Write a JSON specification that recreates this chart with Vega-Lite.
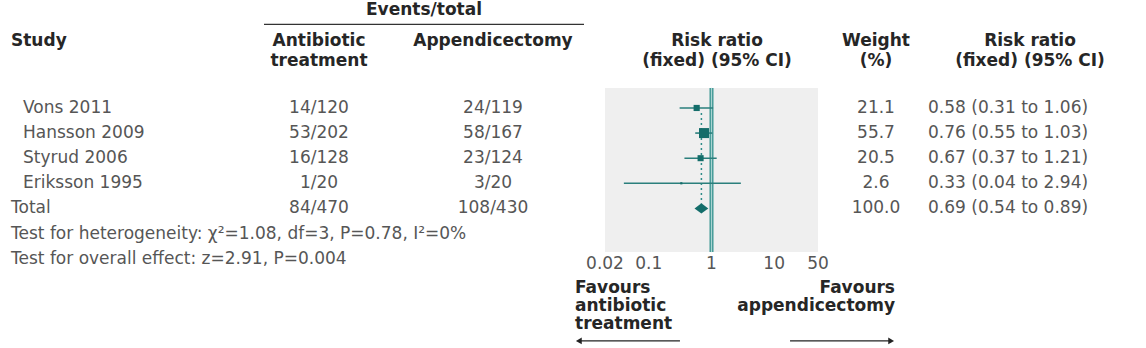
{
  "$schema": "https://vega.github.io/schema/vega-lite/v6.json",
  "width": 1146,
  "height": 348,
  "autosize": {"type": "none"},
  "padding": 0,
  "background": "white",
  "config": {
    "view": {"stroke": null},
    "text": {"font": "DejaVu Sans", "fontSize": 17, "color": "#565656"}
  },
  "datasets": {
    "studies": [
      {"row": 1, "label": "Vons 2011", "kind": "study", "ab": "14/120", "app": "24/119", "weight": 21.1, "rr": 0.58, "lo": 0.31, "hi": 1.06, "ci": "0.58 (0.31 to 1.06)"},
      {"row": 2, "label": "Hansson 2009", "kind": "study", "ab": "53/202", "app": "58/167", "weight": 55.7, "rr": 0.76, "lo": 0.55, "hi": 1.03, "ci": "0.76 (0.55 to 1.03)"},
      {"row": 3, "label": "Styrud 2006", "kind": "study", "ab": "16/128", "app": "23/124", "weight": 20.5, "rr": 0.67, "lo": 0.37, "hi": 1.21, "ci": "0.67 (0.37 to 1.21)"},
      {"row": 4, "label": "Eriksson 1995", "kind": "study", "ab": "1/20", "app": "3/20", "weight": 2.6, "rr": 0.33, "lo": 0.04, "hi": 2.94, "ci": "0.33 (0.04 to 2.94)"},
      {"row": 5, "label": "Total", "kind": "total", "ab": "84/470", "app": "108/430", "weight": 100.0, "rr": 0.69, "lo": 0.54, "hi": 0.89, "ci": "0.69 (0.54 to 0.89)"}
    ],
    "tests": [
      {"row": 6, "text": "Test for heterogeneity: χ²=1.08, df=3, P=0.78, I²=0%"},
      {"row": 7, "text": "Test for overall effect: z=2.91, P=0.004"}
    ],
    "ticks": [
      {"tick": 0.02},
      {"tick": 0.1},
      {"tick": 1},
      {"tick": 10},
      {"tick": 50}
    ]
  },
  "resolve": {"scale": {"x": "independent"}, "axis": {"x": "independent"}},
  "layer": [
    {
      "layer": [
        {
          "data": {"values": [{}]},
          "mark": {"type": "rect", "fill": "#efefef"},
          "encoding": {
            "x": {"datum": 0.02, "type": "quantitative", "scale": {"type": "log", "domain": [0.02, 50], "range": [605, 818], "nice": false}, "axis": null},
            "x2": {"datum": 50},
            "y": {"datum": 0.2, "type": "quantitative", "scale": {"domain": [-3.3, 10.56], "reverse": true, "nice": false, "zero": false}, "axis": null},
            "y2": {"datum": 6.74}
          }
        },
        {
          "data": {"values": [{}]},
          "mark": {"type": "rule", "color": "#3f9794", "strokeWidth": 4},
          "encoding": {
            "x": {"datum": 1, "type": "quantitative", "axis": null},
            "y": {"datum": 0.2, "type": "quantitative", "axis": null},
            "y2": {"datum": 6.74}
          }
        },
        {
          "data": {"values": [{}]},
          "mark": {"type": "rule", "color": "#a9d4d2", "strokeWidth": 1.2},
          "encoding": {
            "x": {"datum": 1, "type": "quantitative", "axis": null},
            "y": {"datum": 0.2, "type": "quantitative", "axis": null},
            "y2": {"datum": 6.74}
          }
        },
        {
          "data": {"name": "studies"},
          "transform": [{"filter": "datum.kind == 'total'"}],
          "mark": {"type": "rule", "color": "#2f8c89", "strokeWidth": 1.5, "strokeDash": [2, 3]},
          "encoding": {
            "x": {"field": "rr", "type": "quantitative", "axis": null},
            "y": {"datum": 1.2, "type": "quantitative", "axis": null},
            "y2": {"datum": 4.8}
          }
        },
        {
          "data": {"name": "studies"},
          "transform": [{"filter": "datum.kind == 'study'"}],
          "mark": {"type": "rule", "color": "#2a7f7c", "strokeWidth": 1.6},
          "encoding": {
            "x": {"field": "lo", "type": "quantitative", "axis": null},
            "x2": {"field": "hi"},
            "y": {"field": "row", "type": "quantitative", "axis": null}
          }
        },
        {
          "data": {"name": "studies"},
          "transform": [{"filter": "datum.kind == 'study'"}],
          "mark": {"type": "square", "filled": true, "color": "#146d6a", "opacity": 1},
          "encoding": {
            "x": {"field": "rr", "type": "quantitative", "axis": null},
            "y": {"field": "row", "type": "quantitative", "axis": null},
            "size": {"field": "weight", "type": "quantitative", "scale": {"domain": [0, 100], "range": [0, 180]}, "legend": null}
          }
        },
        {
          "data": {"name": "studies"},
          "transform": [{"filter": "datum.kind == 'total'"}],
          "mark": {"type": "point", "shape": "M-1,0L0,-0.75L1,0L0,0.75Z", "filled": true, "color": "#146d6a", "opacity": 1, "size": 190},
          "encoding": {
            "x": {"field": "rr", "type": "quantitative", "axis": null},
            "y": {"field": "row", "type": "quantitative", "axis": null}
          }
        },
        {
          "data": {"name": "ticks"},
          "mark": {"type": "text", "align": "center", "baseline": "middle"},
          "encoding": {
            "x": {"field": "tick", "type": "quantitative", "axis": null},
            "y": {"datum": 7.2, "type": "quantitative", "axis": null},
            "text": {"field": "tick", "type": "quantitative", "format": "~g"}
          }
        }
      ]
    },
    {
      "layer": [
        {
          "data": {"values": [{"text": "Study"}]},
          "mark": {"type": "text", "align": "left", "baseline": "top", "fontWeight": "bold", "fontSize": 17, "color": "#262626"},
          "encoding": {
            "x": {"datum": "total", "type": "nominal", "scale": {"type": "point", "domain": ["total", "study"], "range": [11, 23], "padding": 0}, "axis": null},
            "y": {"datum": -2, "type": "quantitative", "axis": null},
            "text": {"field": "text"}
          }
        },
        {
          "data": {"name": "studies"},
          "mark": {"type": "text", "align": "left", "baseline": "middle"},
          "encoding": {
            "x": {"field": "kind", "type": "nominal", "axis": null},
            "y": {"field": "row", "type": "quantitative", "axis": null},
            "text": {"field": "label"}
          }
        },
        {
          "data": {"name": "tests"},
          "mark": {"type": "text", "align": "left", "baseline": "middle"},
          "encoding": {
            "x": {"datum": "total", "type": "nominal", "axis": null},
            "y": {"field": "row", "type": "quantitative", "axis": null},
            "text": {"field": "text"}
          }
        }
      ]
    },
    {
      "layer": [
        {
          "data": {"values": [{"text": "Events/total"}]},
          "mark": {"type": "text", "align": "center", "baseline": "middle", "fontWeight": "bold", "fontSize": 17, "color": "#262626"},
          "encoding": {
            "x": {"datum": "Events/total", "type": "nominal", "scale": {"type": "band", "domain": ["Events/total"], "range": [264, 584], "paddingInner": 0, "paddingOuter": 0}, "axis": null},
            "y": {"datum": -2.92, "type": "quantitative", "axis": null},
            "text": {"field": "text"}
          }
        },
        {
          "data": {"values": [{}]},
          "mark": {"type": "rect", "fill": null, "stroke": "#333333", "strokeWidth": 1.3},
          "encoding": {
            "x": {"datum": "Events/total", "type": "nominal", "axis": null},
            "y": {"datum": -2.33, "type": "quantitative", "axis": null},
            "y2": {"datum": -2.33}
          }
        }
      ]
    },
    {
      "layer": [
        {
          "data": {"values": [{"text": "Antibiotic\ntreatment"}]},
          "mark": {"type": "text", "align": "center", "baseline": "top", "lineBreak": "\n", "lineHeight": 20, "fontWeight": "bold", "fontSize": 17, "color": "#262626"},
          "encoding": {
            "x": {"datum": "Antibiotic treatment", "type": "nominal", "scale": {"type": "point", "domain": ["Antibiotic treatment"], "range": [309, 329]}, "axis": null},
            "y": {"datum": -2, "type": "quantitative", "axis": null},
            "text": {"field": "text"}
          }
        },
        {
          "data": {"name": "studies"},
          "mark": {"type": "text", "align": "center", "baseline": "middle"},
          "encoding": {
            "x": {"datum": "Antibiotic treatment", "type": "nominal", "axis": null},
            "y": {"field": "row", "type": "quantitative", "axis": null},
            "text": {"field": "ab"}
          }
        }
      ]
    },
    {
      "layer": [
        {
          "data": {"values": [{"text": "Appendicectomy"}]},
          "mark": {"type": "text", "align": "center", "baseline": "top", "fontWeight": "bold", "fontSize": 17, "color": "#262626"},
          "encoding": {
            "x": {"datum": "Appendicectomy", "type": "nominal", "scale": {"type": "point", "domain": ["Appendicectomy"], "range": [483, 503]}, "axis": null},
            "y": {"datum": -2, "type": "quantitative", "axis": null},
            "text": {"field": "text"}
          }
        },
        {
          "data": {"name": "studies"},
          "mark": {"type": "text", "align": "center", "baseline": "middle"},
          "encoding": {
            "x": {"datum": "Appendicectomy", "type": "nominal", "axis": null},
            "y": {"field": "row", "type": "quantitative", "axis": null},
            "text": {"field": "app"}
          }
        }
      ]
    },
    {
      "data": {"values": [{"text": "Risk ratio\n(fixed) (95% CI)"}]},
      "mark": {"type": "text", "align": "center", "baseline": "top", "lineBreak": "\n", "lineHeight": 20, "fontWeight": "bold", "fontSize": 17, "color": "#262626"},
      "encoding": {
        "x": {"datum": "Risk ratio plot", "type": "nominal", "scale": {"type": "point", "domain": ["Risk ratio plot"], "range": [707, 727]}, "axis": null},
        "y": {"datum": -2, "type": "quantitative", "axis": null},
        "text": {"field": "text"}
      }
    },
    {
      "layer": [
        {
          "data": {"values": [{"text": "Weight\n(%)"}]},
          "mark": {"type": "text", "align": "center", "baseline": "top", "lineBreak": "\n", "lineHeight": 20, "fontWeight": "bold", "fontSize": 17, "color": "#262626"},
          "encoding": {
            "x": {"datum": "Weight", "type": "nominal", "scale": {"type": "point", "domain": ["Weight"], "range": [866, 886]}, "axis": null},
            "y": {"datum": -2, "type": "quantitative", "axis": null},
            "text": {"field": "text"}
          }
        },
        {
          "data": {"name": "studies"},
          "mark": {"type": "text", "align": "center", "baseline": "middle"},
          "encoding": {
            "x": {"datum": "Weight", "type": "nominal", "axis": null},
            "y": {"field": "row", "type": "quantitative", "axis": null},
            "text": {"field": "weight", "type": "quantitative", "format": ".1f"}
          }
        }
      ]
    },
    {
      "layer": [
        {
          "data": {"values": [{"text": "Risk ratio\n(fixed) (95% CI)"}]},
          "mark": {"type": "text", "align": "center", "baseline": "top", "lineBreak": "\n", "lineHeight": 20, "fontWeight": "bold", "fontSize": 17, "color": "#262626"},
          "encoding": {
            "x": {"datum": "head", "type": "nominal", "scale": {"type": "point", "domain": ["cell", "head"], "range": [928, 1030], "padding": 0}, "axis": null},
            "y": {"datum": -2, "type": "quantitative", "axis": null},
            "text": {"field": "text"}
          }
        },
        {
          "data": {"name": "studies"},
          "mark": {"type": "text", "align": "left", "baseline": "middle"},
          "encoding": {
            "x": {"datum": "cell", "type": "nominal", "axis": null},
            "y": {"field": "row", "type": "quantitative", "axis": null},
            "text": {"field": "ci"}
          }
        }
      ]
    },
    {
      "layer": [
        {
          "data": {"values": [{"text": "Favours\nantibiotic\ntreatment"}]},
          "mark": {"type": "text", "align": "left", "baseline": "top", "lineBreak": "\n", "lineHeight": 18, "fontWeight": "bold", "fontSize": 17, "color": "#262626"},
          "encoding": {
            "x": {"datum": 0, "type": "quantitative", "scale": {"domain": [0, 1], "range": [575, 895], "nice": false, "zero": false}, "axis": null},
            "y": {"datum": 7.87, "type": "quantitative", "axis": null},
            "text": {"field": "text"}
          }
        },
        {
          "data": {"values": [{"text": "Favours\nappendicectomy"}]},
          "mark": {"type": "text", "align": "right", "baseline": "top", "lineBreak": "\n", "lineHeight": 18, "fontWeight": "bold", "fontSize": 17, "color": "#262626"},
          "encoding": {
            "x": {"datum": 1, "type": "quantitative", "axis": null},
            "y": {"datum": 7.87, "type": "quantitative", "axis": null},
            "text": {"field": "text"}
          }
        },
        {
          "data": {"values": [{}]},
          "mark": {"type": "rule", "color": "#222222", "strokeWidth": 1.3},
          "encoding": {
            "x": {"datum": 0.01, "type": "quantitative", "axis": null},
            "x2": {"datum": 0.328},
            "y": {"datum": 10.28, "type": "quantitative", "axis": null}
          }
        },
        {
          "data": {"values": [{}]},
          "mark": {"type": "rule", "color": "#222222", "strokeWidth": 1.3},
          "encoding": {
            "x": {"datum": 0.672, "type": "quantitative", "axis": null},
            "x2": {"datum": 0.99},
            "y": {"datum": 10.28, "type": "quantitative", "axis": null}
          }
        },
        {
          "data": {"values": [{}]},
          "mark": {"type": "point", "shape": "triangle-left", "filled": true, "color": "#222222", "opacity": 1, "size": 45},
          "encoding": {
            "x": {"datum": 0.012, "type": "quantitative", "axis": null},
            "y": {"datum": 10.28, "type": "quantitative", "axis": null}
          }
        },
        {
          "data": {"values": [{}]},
          "mark": {"type": "point", "shape": "triangle-right", "filled": true, "color": "#222222", "opacity": 1, "size": 45},
          "encoding": {
            "x": {"datum": 0.988, "type": "quantitative", "axis": null},
            "y": {"datum": 10.28, "type": "quantitative", "axis": null}
          }
        }
      ]
    }
  ]
}
